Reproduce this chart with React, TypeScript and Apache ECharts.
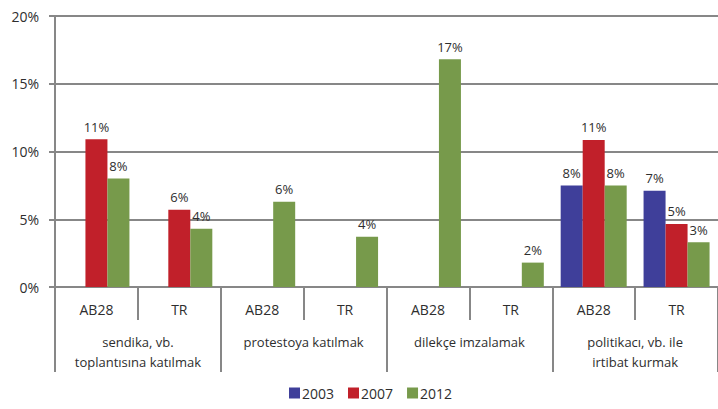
import React, { useEffect, useRef } from "react";
import * as echarts from "echarts";

const categories = ["AB28", "TR", "AB28", "TR", "AB28", "TR", "AB28", "TR"];
const groups = [
  "sendika, vb.\ntoplantısına katılmak",
  "protestoya katılmak",
  "dilekçe imzalamak",
  "politikacı, vb. ile\nirtibat kurmak",
];
const yTicks = [0, 5, 10, 15, 20];
const series2003: (number | null)[] = [null, null, null, null, null, null, 7.5, 7.1];
const series2007: (number | null)[] = [10.9, 5.7, null, null, null, null, 10.85, 4.65];
const series2012: (number | null)[] = [8.0, 4.3, 6.3, 3.7, 16.8, 1.8, 7.5, 3.3];
const seriesNames = ["2003", "2007", "2012"];
const colors = ["#3F3F9A", "#C1202A", "#779A4B"];

const FONT = "'Open Sans', 'Noto Sans', sans-serif";
const TEXT = "#2e2e2e";
const GRID = "#878787";

export default function App() {
  const ref = useRef<HTMLDivElement>(null);
  useEffect(() => {
    if (!ref.current) return;
    const chart = echarts.init(ref.current, undefined, { renderer: "svg" });
    const data = [series2003, series2007, series2012];
    chart.setOption({
      animation: false,
      backgroundColor: "#ffffff",
      textStyle: { fontFamily: FONT },
      grid: { left: 55, top: 16, width: 672, bottom: 122 },
      legend: {
        bottom: 4,
        left: 284,
        itemWidth: 11,
        itemHeight: 11,
        itemGap: 14,
        icon: "rect",
        textStyle: { fontFamily: FONT, fontSize: 14, color: TEXT, padding: [0, 0, 0, -3] },
        data: seriesNames,
      },
      xAxis: [
        {
          type: "category",
          data: categories,
          axisLine: { show: true, lineStyle: { color: GRID, width: 2 } },
          axisTick: { show: true, length: 33, interval: 0, lineStyle: { color: GRID, width: 2 } },
          axisLabel: { interval: 0, margin: 15, fontSize: 14, color: TEXT, fontFamily: FONT },
        },
        {
          type: "category",
          data: groups,
          position: "bottom",
          axisLine: { show: false },
          axisTick: { show: true, length: 85, interval: 0, lineStyle: { color: GRID, width: 2 } },
          axisLabel: {
            interval: 0,
            margin: 45,
            fontSize: 13,
            lineHeight: 20,
            color: TEXT,
            fontFamily: FONT,
          },
        },
      ],
      yAxis: {
        type: "value",
        min: yTicks[0],
        max: yTicks[yTicks.length - 1],
        interval: 5,
        axisLine: { show: true, lineStyle: { color: GRID, width: 2 } },
        axisTick: { show: true, length: 6, lineStyle: { color: GRID, width: 2 } },
        splitLine: { show: true, lineStyle: { color: GRID, width: 2 } },
        axisLabel: { formatter: "{value}%", fontSize: 14, color: TEXT, margin: 16, fontFamily: FONT },
      },
      series: seriesNames.map((name, i) => ({
        name,
        type: "bar",
        xAxisIndex: 0,
        data: data[i],
        barWidth: 22,
        barGap: "0%",
        itemStyle: { color: colors[i] },
        label: {
          show: true,
          position: "top",
          distance: 6,
          fontSize: 13,
          color: TEXT,
          fontFamily: FONT,
          formatter: (p: any) => (p.value == null ? "" : Math.round(p.value) + "%"),
        },
      })),
    });
    return () => chart.dispose();
  }, []);
  return (
    <div
      ref={ref}
      style={{ position: "absolute", left: 0, top: 0, width: 718, height: 409 }}
    />
  );
}
